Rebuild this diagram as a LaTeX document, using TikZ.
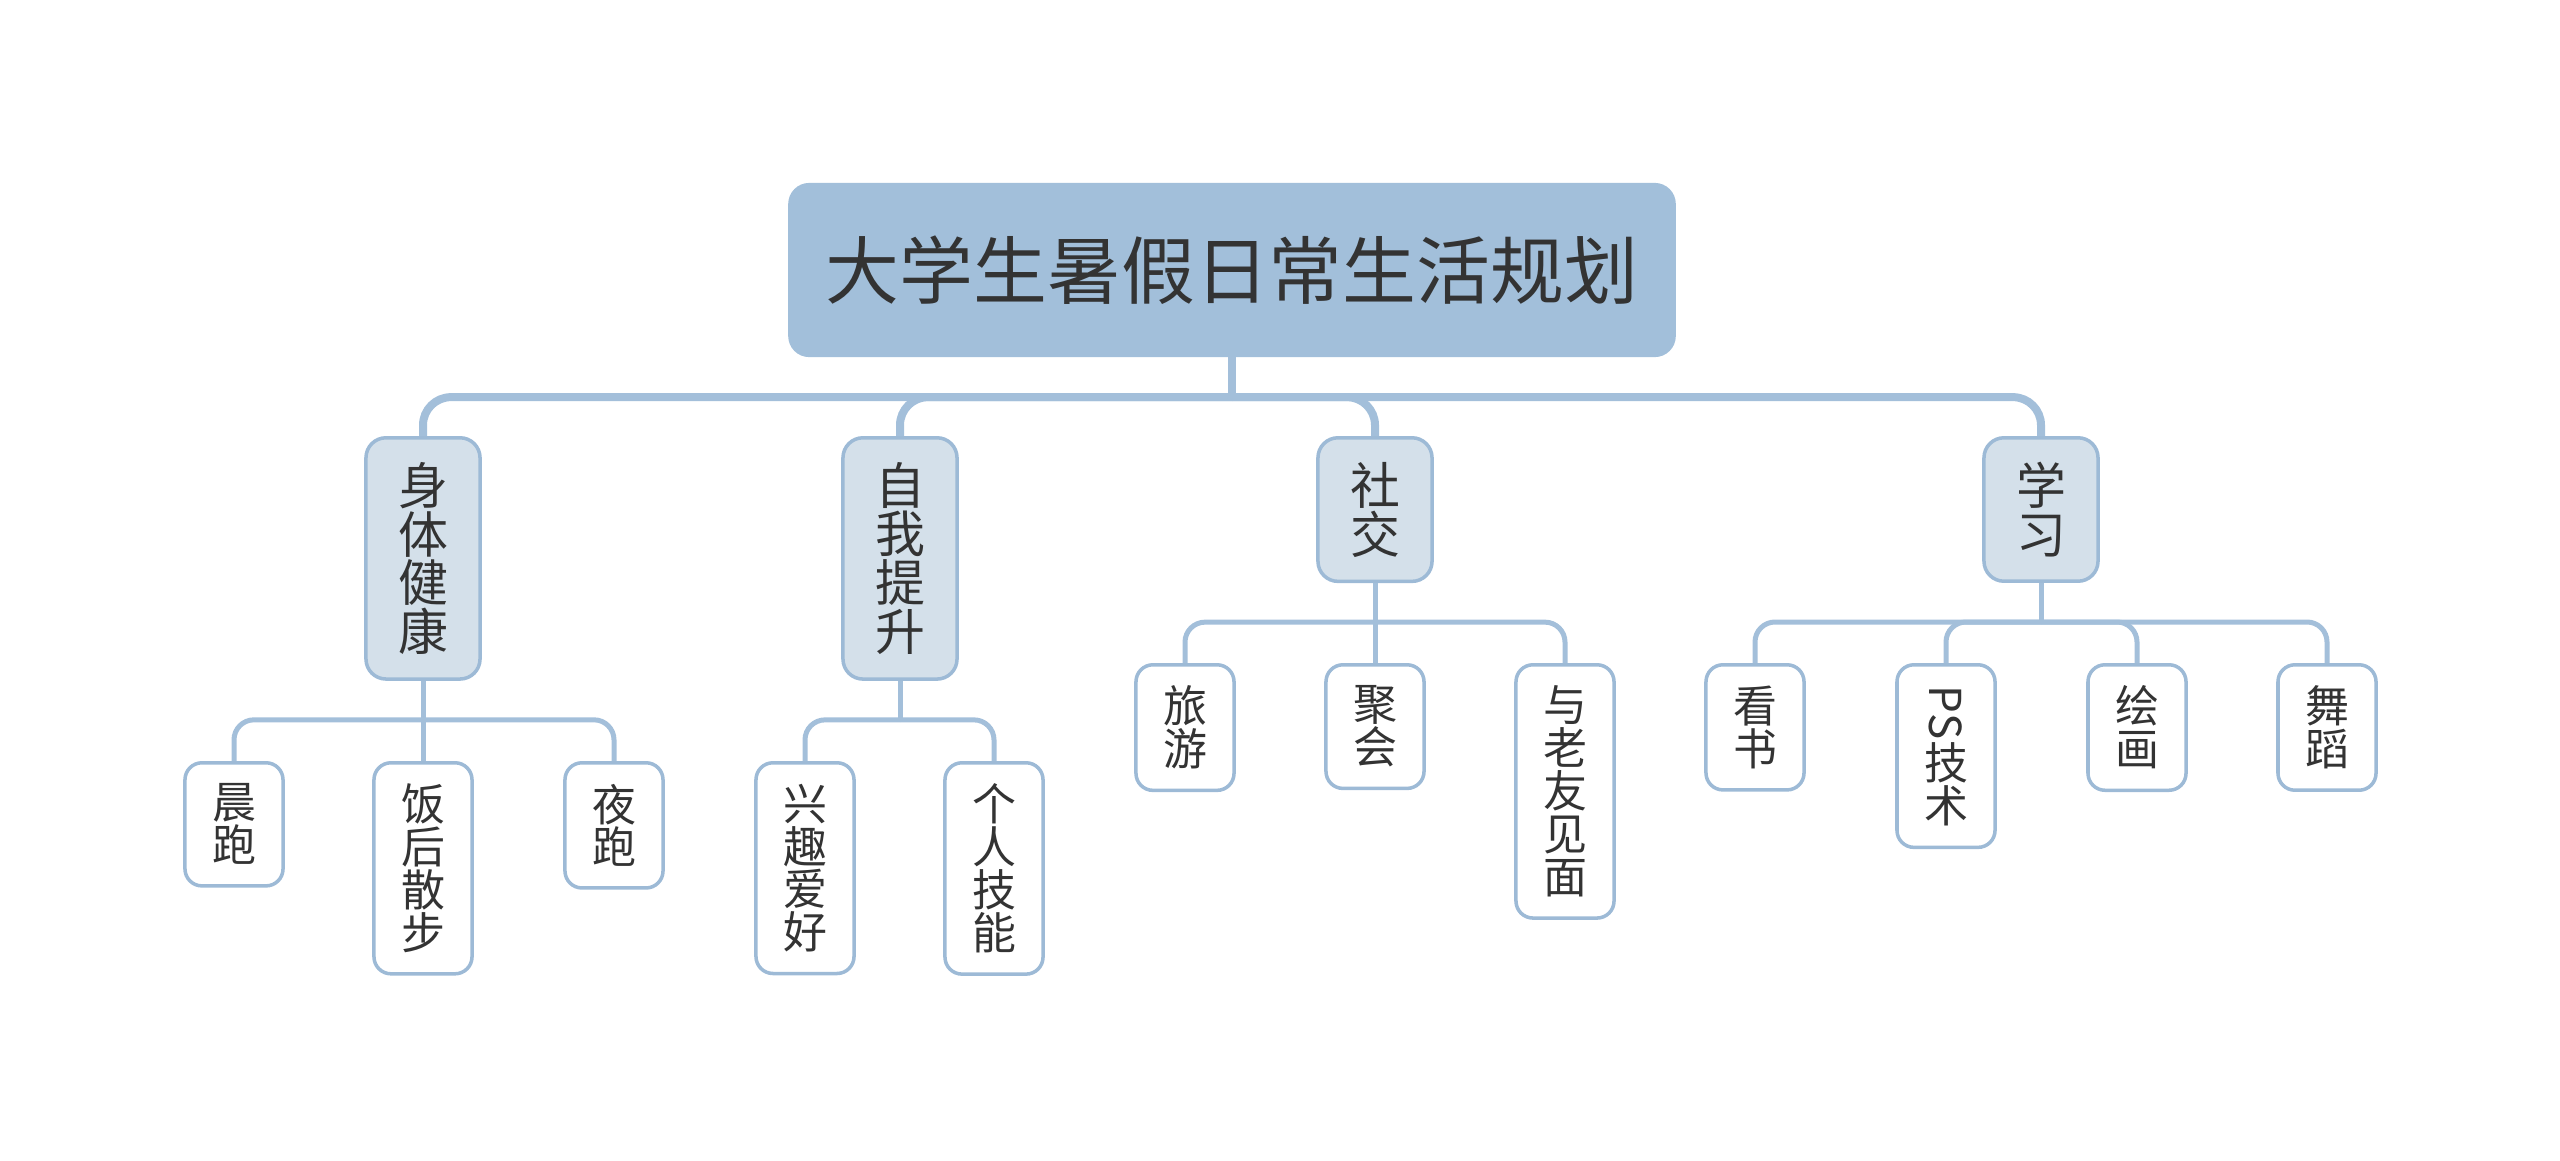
\documentclass[tikz,border=0pt]{standalone}
\usepackage{fontspec}
\setmainfont{Noto Sans CJK SC}
\usepackage{graphicx}
\usepackage{tikz}
\usetikzlibrary{calc,positioning}
\usepackage{xcolor}
\definecolor{rootfill}{HTML}{A2BFDA}
\definecolor{topicfill}{HTML}{D4E0EA}
\definecolor{boxedge}{HTML}{9DBAD6}
\definecolor{linkblue}{HTML}{A3BFDA}
\definecolor{ink}{HTML}{333333}

\begin{document}
\begin{tikzpicture}[x=0.01cm, y=-0.01cm, text=ink,
    rootbox/.style={draw=rootfill, fill=rootfill, rounded corners=0.2cm, line width=0.6pt,
        minimum width=8.85cm, minimum height=1.72cm, font=\fontsize{21pt}{25pt}\selectfont},
    topicbox/.style={draw=boxedge, fill=topicfill, rounded corners=0.2cm, line width=1pt, anchor=north,
        align=center, inner xsep=0pt, inner ysep=6.9pt, minimum width=1.14cm,
        font=\fontsize{14.2pt}{13.9pt}\selectfont},
    leafbox/.style={draw=boxedge, fill=white, rounded corners=0.17cm, line width=1pt, anchor=north,
        align=center, inner xsep=0pt, inner ysep=6pt, minimum width=0.98cm,
        font=\fontsize{12.5pt}{12.2pt}\selectfont},
    trunk/.style={draw=linkblue, line width=0.08cm, rounded corners=0.28cm},
    twig/.style={draw=linkblue, line width=0.05cm, rounded corners=0.2cm}]
    \useasboundingbox (0,0) rectangle (2560,1160);

    % Tema centrale
    \node[rootbox] (plan) at (1232,270) {大学生暑假日常生活规划};

    % Rami principali
    \node[topicbox] (health) at (423,436)  {身\\体\\健\\康};
    \node[topicbox] (growth) at (900,436)  {自\\我\\提\\升};
    \node[topicbox] (social) at (1375,436) {社\\交};
    \node[topicbox] (study)  at (2041,436) {学\\习};

    % Foglie
    \node[leafbox] (morning) at (234,761)  {晨\\跑};
    \node[leafbox] (walk)    at (423,761)  {饭\\后\\散\\步};
    \node[leafbox] (night)   at (614,761)  {夜\\跑};
    \node[leafbox] (hobby)   at (805,761)  {兴\\趣\\爱\\好};
    \node[leafbox] (skill)   at (994,761)  {个\\人\\技\\能};
    \node[leafbox] (travel)  at (1185,663) {旅\\游};
    \node[leafbox] (party)   at (1375,663) {聚\\会};
    \node[leafbox] (friends) at (1565,663) {与\\老\\友\\见\\面};
    \node[leafbox] (reading) at (1755,663) {看\\书};
    \node[leafbox] (ps)      at (1946,663) {\rotatebox[origin=c]{-90}{PS}\\技\\术};
    \node[leafbox] (drawing) at (2137,663) {绘\\画};
    \node[leafbox] (dance)   at (2327,663) {舞\\蹈};

    % Collegamenti
    \coordinate (plan-bus) at ([yshift=-0.4cm]plan.south);
    \draw[trunk] (plan.south) -- (plan-bus);
    \foreach \t in {health,growth,social,study}
        \draw[trunk] (plan-bus) -| (\t.north);

    \foreach \t/\l in {health/{morning,walk,night}, growth/{hobby,skill},
                       social/{travel,party,friends}, study/{reading,ps,drawing,dance}} {
        \coordinate (\t-bus) at ([yshift=-0.39cm]\t.south);
        \draw[twig] (\t.south) -- (\t-bus);
        \foreach \c in \l
            \draw[twig] (\t-bus) -| (\c.north);
    }
\end{tikzpicture}
\end{document}
